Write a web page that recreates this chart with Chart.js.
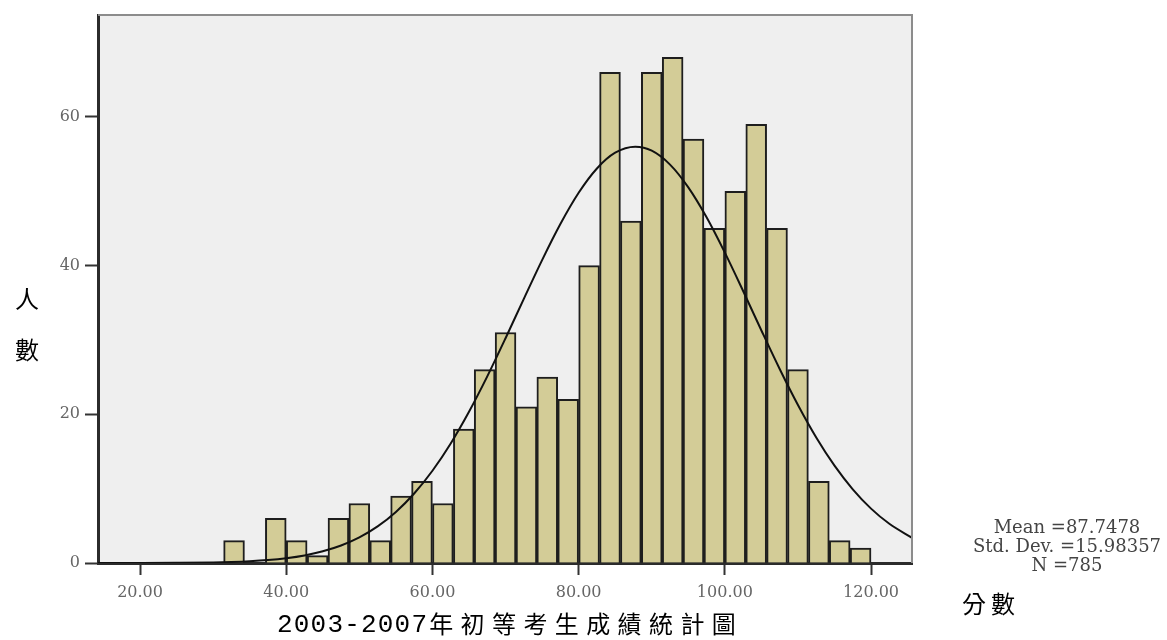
<!DOCTYPE html>
<html><head><meta charset="utf-8">
<script src="https://cdn.jsdelivr.net/npm/chart.js@4.4.1/dist/chart.umd.min.js"></script>
<style>html,body{margin:0;padding:0;background:#fff;} canvas{display:block;}</style>
</head><body>
<canvas id="c" width="1167" height="640"></canvas>
<script>
// ---- data ----
const binCenters = [32.86, 35.71, 38.57, 41.43, 44.29, 47.14, 50.00, 52.86, 55.71, 58.57,
  61.43, 64.29, 67.14, 70.00, 72.86, 75.71, 78.57, 81.43, 84.29, 87.14,
  90.00, 92.86, 95.71, 98.57, 101.43, 104.29, 107.14, 110.00, 112.86, 115.71, 118.57];
const counts = [3, 0, 6, 3, 1, 6, 8, 3, 9, 11,
  8, 18, 26, 31, 21, 25, 22, 40, 66, 46,
  66, 68, 57, 45, 50, 59, 45, 26, 11, 3, 2];
const curveX = [14.25, 20, 25, 30, 32.5, 35, 37.5, 40, 42.5, 45, 47.5, 50, 52.5, 55, 57.5, 60,
  62.5, 65, 67.5, 70, 72.5, 75, 77.5, 80, 82.5, 85, 87.75, 90, 92.5, 95, 97.5, 100,
  102.5, 105, 107.5, 110, 112.5, 115, 117.5, 120, 122.5, 125.6];
const curveY = [0.00, 0.01, 0.03, 0.08, 0.14, 0.24, 0.40, 0.65, 1.02, 1.57, 2.35, 3.44, 4.92, 6.87, 9.35, 12.41,
  16.08, 20.34, 25.10, 30.23, 35.53, 40.74, 45.59, 49.79, 53.06, 55.18, 55.98, 55.45, 53.58, 50.52, 46.49, 41.74,
  36.58, 31.27, 26.09, 21.25, 16.88, 13.09, 9.91, 7.31, 5.27, 3.39];
const xTickValues = [20, 40, 60, 80, 100, 120];
const xTickLabels = ['20.00', '40.00', '60.00', '80.00', '100.00', '120.00'];
const yTickValues = [0, 20, 40, 60];
const yTickLabels = ['0', '20', '40', '60'];
const yTitleChars = ['人', '數'];
const xTitleYears = '2003-2007';
const xTitleText = '年初等考生成績統計圖';
const xUnitTitle = '分數';
const statLines = ['Mean =87.7478', 'Std. Dev. =15.98357', 'N =785'];

function spacingTo(c, px) { if ('letterSpacing' in c) c.letterSpacing = px + 'px'; }

const decor = {
  id: 'decor',
  beforeDraw(chart) {
    const a = chart.chartArea, c = chart.ctx;
    c.save();
    c.fillStyle = '#efefef';
    c.fillRect(a.left, a.top, a.right - a.left, a.bottom - a.top);
    c.restore();
  },
  afterDraw(chart) {
    const a = chart.chartArea, c = chart.ctx;
    c.save();
    // top and right frame
    c.strokeStyle = '#8c8c8c';
    c.lineWidth = 2;
    c.beginPath();
    c.moveTo(a.left, a.top); c.lineTo(a.right, a.top); c.lineTo(a.right, a.bottom);
    c.stroke();
    // y title (stacked)
    c.fillStyle = '#000';
    c.textAlign = 'center';
    c.textBaseline = 'middle';
    c.font = '24px "Noto Sans CJK TC"';
    c.fillText(yTitleChars[0], 27, 299);
    c.fillText(yTitleChars[1], 27, 350);
    // unit title
    spacingTo(c, 5);
    c.fillText(xUnitTitle, 991, 604);
    // x title: years part then CJK part
    c.textAlign = 'left';
    c.font = '26px "Liberation Mono"';
    spacingTo(c, 1.2);
    const x0 = 277;
    c.fillText(xTitleYears, x0, 625);
    const wy = c.measureText(xTitleYears).width;
    c.font = '24px "Noto Sans CJK TC"';
    spacingTo(c, 7.4);
    c.fillText(xTitleText, x0 + wy + 1, 624);
    // stats
    spacingTo(c, 0);
    c.textAlign = 'center';
    c.font = '18px "DejaVu Serif"';
    c.fillStyle = '#444';
    statLines.forEach((t, i) => c.fillText(t, 1067, 528 + i * 19));
    c.restore();
  }
};

new Chart(document.getElementById('c'), {
  type: 'bar',
  data: {
    datasets: [
      {
        type: 'line',
        data: curveX.map((x, i) => ({ x: x, y: curveY[i] })),
        borderColor: '#111',
        borderWidth: 2,
        pointRadius: 0,
        cubicInterpolationMode: 'monotone',
        fill: false,
        order: 0
      },
      {
        type: 'bar',
        data: binCenters.map((x, i) => ({ x: x, y: counts[i] })),
        backgroundColor: '#d3cc97',
        borderColor: '#1e1e1e',
        borderWidth: 2,
        barPercentage: 1,
        categoryPercentage: 1,
        order: 1
      }
    ]
  },
  options: {
    responsive: false,
    animation: false,
    devicePixelRatio: 1,
    layout: { padding: { left: 0, top: 15, right: 255, bottom: 0 } },
    plugins: { legend: { display: false }, tooltip: { enabled: false } },
    scales: {
      x: {
        type: 'linear', min: 14.25, max: 125.6, offset: false,
        afterBuildTicks: s => { s.ticks = xTickValues.map(v => ({ value: v })); },
        afterFit: s => { s.height = 77; },
        ticks: {
          callback: v => { const k = xTickValues.indexOf(v); return k >= 0 ? xTickLabels[k] : ''; },
          font: { family: '"DejaVu Serif"', size: 16 }, color: '#666', padding: 8,
          maxRotation: 0, autoSkip: false
        },
        grid: { display: true, offset: false, drawOnChartArea: false, drawTicks: true, tickLength: 12, tickWidth: 2, tickColor: '#333' },
        border: { display: true, color: '#2b2b2b', width: 3 }
      },
      y: {
        type: 'linear', min: 0, max: 73.7,
        afterBuildTicks: s => { s.ticks = yTickValues.map(v => ({ value: v })); },
        afterFit: s => { s.width = 98; },
        ticks: {
          callback: v => { const k = yTickValues.indexOf(v); return k >= 0 ? yTickLabels[k] : ''; },
          font: { family: '"DejaVu Serif"', size: 16 }, color: '#666', padding: 5
        },
        grid: { display: true, drawOnChartArea: false, drawTicks: true, tickLength: 13, tickWidth: 2, tickColor: '#333' },
        border: { display: true, color: '#2b2b2b', width: 3 }
      }
    }
  },
  plugins: [decor]
});
</script>
</body></html>
